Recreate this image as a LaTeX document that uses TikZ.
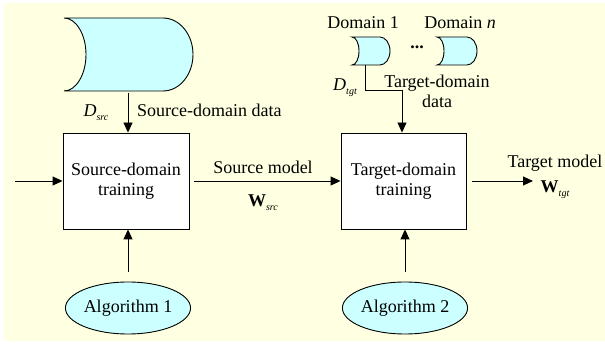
\documentclass[tikz,border=0pt]{standalone}
\usepackage{fontspec}
\setmainfont{Liberation Serif}
\usetikzlibrary{arrows.meta,shapes.geometric}
\definecolor{cream}{HTML}{FFFFE1}
\definecolor{cyanfill}{HTML}{CCFFFF}
\newcommand\sub[1]{\raisebox{-0.45ex}{\fontsize{10}{12}\selectfont\itshape #1}}
\begin{document}
\begin{tikzpicture}[x=1pt,y=-1pt,
  every node/.style={font=\fontsize{18}{20}\selectfont, inner sep=0pt},
  arr/.style={draw=black, line width=0.9pt, -{Triangle[length=10pt,width=9pt]}},
  dfill/.style={draw=black, line width=0.9pt, fill=cyanfill},
  boxst/.style={draw=black, line width=0.9pt, fill=white, minimum width=126pt, minimum height=96pt, align=center},
  algst/.style={ellipse, draw=black, line width=0.9pt, fill=cyanfill, minimum width=120pt, minimum height=52pt},
  lbl/.style={align=center}]
\useasboundingbox (0,0) rectangle (605,344);
\fill[cream] (4,3) rectangle (605,341);

% source data store
\draw[dfill] (64,18) -- (163,18) .. controls (179.6,18) and (193,34.4) .. (193,54.5)
  .. controls (193,74.6) and (179.6,91) .. (163,91) -- (64,91)
  .. controls (76,91) and (86,74.6) .. (86,54.5)
  .. controls (86,34.4) and (76,18) .. (64,18) -- cycle;
\coordinate (srcb) at (128,93);

% domain 1
\draw[dfill] (352,37) -- (380,37) .. controls (385.5,37) and (390,43.3) .. (390,51)
  .. controls (390,58.7) and (385.5,65) .. (380,65) -- (352,65)
  .. controls (356,65) and (359,58.7) .. (359,51)
  .. controls (359,43.3) and (356,37) .. (352,37) -- cycle;
% domain n
\draw[dfill] (437,37) -- (467,37) .. controls (472.5,37) and (477,43.3) .. (477,51)
  .. controls (477,58.7) and (472.5,65) .. (467,65) -- (437,65)
  .. controls (441,65) and (444,58.7) .. (444,51)
  .. controls (444,43.3) and (441,37) .. (437,37) -- cycle;
\coordinate (d1b) at (365,65);

\node (dom1) at (363,23) {Domain 1};
\node (domn) at (460,23) {Domain \textit{n}};
\node (dots) at (417,47) {\textbf{...}};

% boxes
\node[boxst] (sbox) at (126,181) {Source-domain\\training};
\node[boxst, minimum width=125pt] (tbox) at (403.5,181) {Target-domain\\training};

% algorithms
\node[algst] (alg1) at (128,308) {Algorithm 1};
\node[algst] (alg2) at (405,308) {Algorithm 2};

% labels
\node[anchor=west] (sdata) at (137,110) {Source-domain data};
\node (dsrc) at (96,113) {\textit{D}\sub{src}};
\node (smodel) at (263,167) {Source model};
\node (wsrc) at (263,203) {\textbf{W}\sub{src}};
\node[lbl] (tdata) at (437,91) {Target-domain\\data};
\node (dtgt) at (345,88) {\textit{D}\sub{tgt}};
\node (tmodel) at (555,163) {Target model};
\node (wtgt) at (555,190) {\textbf{W}\sub{tgt}};

\coordinate (inp) at (15,181);
\coordinate (outp) at (533,181);

% connectors
\draw[arr] (srcb) -- (srcb |- sbox.north);
\draw[arr] (d1b) -- (365,90) -| ([xshift=-1.5pt]tbox.north);
\draw[arr] (inp) -- (sbox.west);
\draw[arr, shorten <=5pt] (sbox.east) -- (tbox.west);
\draw[arr, shorten <=6pt] (tbox.east) -- (outp);
\draw[arr] ([yshift=10pt]alg1.north) -- (alg1.north |- sbox.south);
\draw[arr] ([yshift=10pt]alg2.north) -- (alg2.north |- tbox.south);
\end{tikzpicture}
\end{document}
